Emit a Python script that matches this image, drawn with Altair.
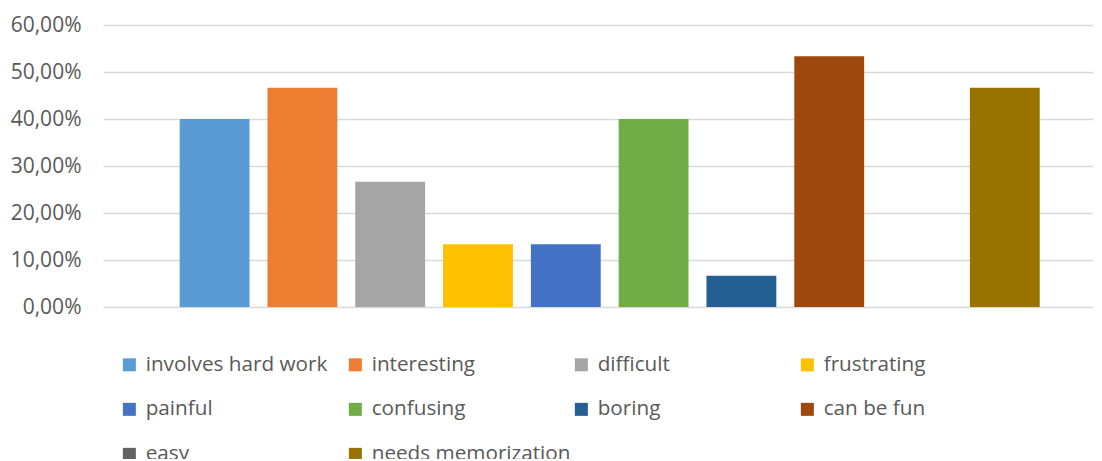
import altair as alt
import pandas as pd

categories = ["involves hard work", "interesting", "difficult", "frustrating", "painful",
              "confusing", "boring", "can be fun", "easy", "needs memorization"]
values = [0.40, 0.4667, 0.2667, 0.1333, 0.1333, 0.40, 0.0667, 0.5333, 0.0, 0.4667]
colors = ["#5B9BD5", "#ED7D31", "#A5A5A5", "#FFC000", "#4472C4",
          "#70AD47", "#255E91", "#9E480E", "#636363", "#997300"]
y_ticks = [0, 0.1, 0.2, 0.3, 0.4, 0.5, 0.6]

df = pd.DataFrame({"category": categories, "value": values})

FONT = "Open Sans"
TXT = "#595959"

chart = alt.Chart(df).mark_bar().encode(
    x=alt.X("category:N", sort=categories,
            scale=alt.Scale(paddingInner=18/88, paddingOuter=0.74, align=0.59),
            axis=None),
    y=alt.Y("value:Q", scale=alt.Scale(domain=[0, 0.6], nice=False),
            axis=alt.Axis(values=y_ticks, title=None, domain=False, ticks=False,
                          labelExpr="replace(format(datum.value, '.2%'), '.', ',')",
                          labelFont=FONT, labelFontSize=21, labelColor=TXT,
                          labelPadding=22, gridColor="#D9D9D9", gridWidth=1.3)),
    color=alt.Color("category:N", sort=categories,
                    scale=alt.Scale(domain=categories, range=colors),
                    legend=alt.Legend(title=None, orient="none", legendX=16, legendY=329,
                                      direction="horizontal", padding=0,
                                      columns=4, gridAlign="all", columnPadding=0,
                                      rowPadding=23, symbolType="square", symbolSize=169,
                                      symbolStrokeWidth=0, symbolOffset=0,
                                      labelFont=FONT, labelFontSize=20.7, labelColor=TXT,
                                      labelOffset=6, labelLimit=400)),
).properties(
    width=990, height=282,
    autosize="none",
    padding={"left": 95, "top": 17, "right": 0, "bottom": 152},
).configure_view(stroke=None)

chart.save("out.html", embed_options={"renderer": "svg", "actions": False})
